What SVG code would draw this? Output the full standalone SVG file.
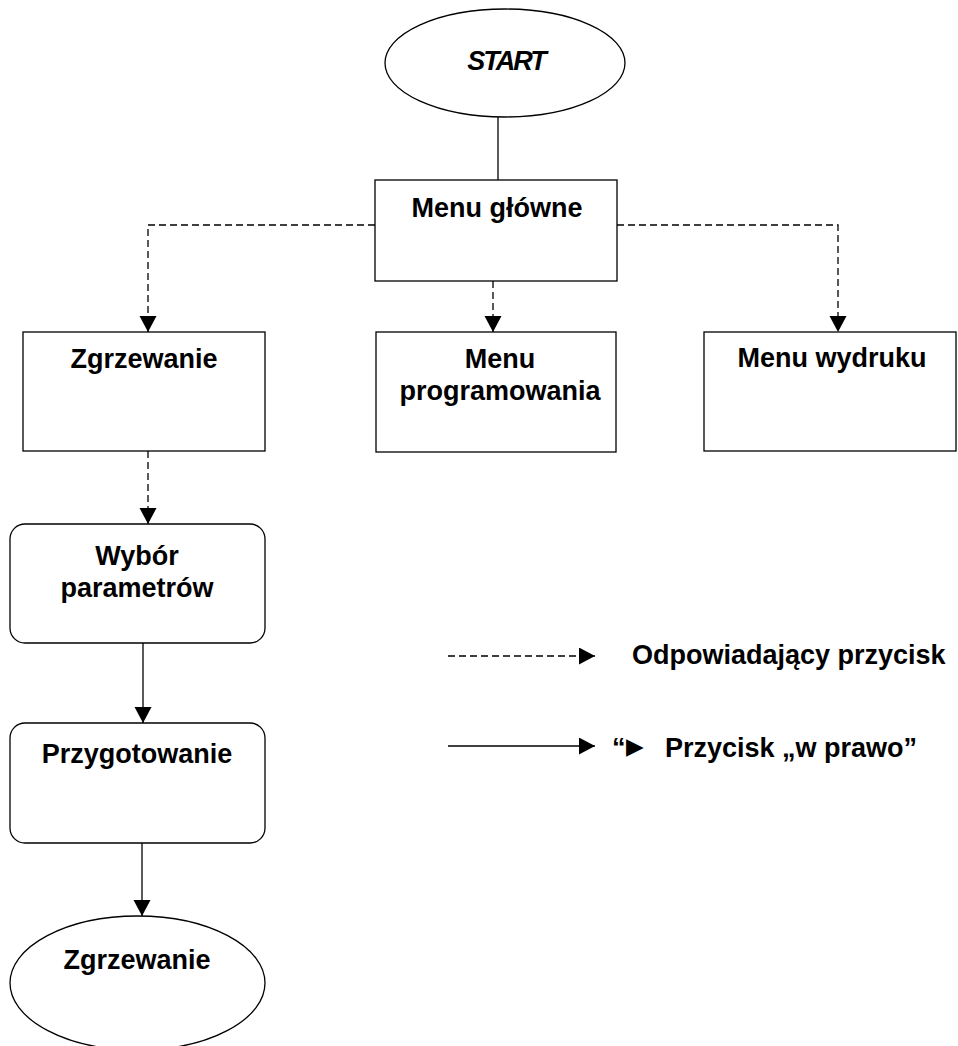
<svg xmlns="http://www.w3.org/2000/svg" width="958" height="1046" viewBox="0 0 958 1046">
<style>
.shape{fill:#fff;stroke:#000;stroke-width:1.3}
.t{font-family:"Liberation Sans",Arial,sans-serif;font-weight:bold;font-size:27px;fill:#000;text-anchor:middle}
.tl{font-family:"Liberation Sans",Arial,sans-serif;font-weight:bold;font-size:27px;fill:#000}
.c{fill:none;stroke:#000;stroke-width:1.3}
.d{stroke-dasharray:7 4}
</style>
<defs>
<marker id="ah" markerUnits="userSpaceOnUse" markerWidth="18" markerHeight="18" refX="16" refY="8.5" orient="auto">
<path d="M0,0 L16,8.5 L0,17 Z" fill="#000"/>
</marker>
</defs>
<rect width="958" height="1046" fill="#fff"/>
<g id="connectors">
<path class="c" d="M498,117 V180"/>
<path class="c d" d="M375,225 H148 V332" marker-end="url(#ah)"/>
<path class="c d" d="M617,225 H838 V332" marker-end="url(#ah)"/>
<path class="c d" d="M493,281 V332" marker-end="url(#ah)"/>
<path class="c d" d="M148,451 V524" marker-end="url(#ah)"/>
<path class="c" d="M143,643 V723" marker-end="url(#ah)"/>
<path class="c" d="M142,843 V916" marker-end="url(#ah)"/>
</g>
<g id="start">
<ellipse class="shape" cx="505" cy="63" rx="120" ry="54"/>
<text class="t" x="506" y="70" font-style="italic" font-size="27" letter-spacing="-2">START</text>
</g>
<g id="menu-glowne">
<rect class="shape" x="375" y="180" width="242" height="101"/>
<text class="t" x="497" y="217">Menu główne</text>
</g>
<g id="zgrzewanie">
<rect class="shape" x="23" y="332" width="242" height="119"/>
<text class="t" x="144" y="368">Zgrzewanie</text>
</g>
<g id="menu-programowania">
<rect class="shape" x="376" y="332" width="240" height="120"/>
<text class="t" x="500" y="368">Menu</text>
<text class="t" x="500" y="400">programowania</text>
</g>
<g id="menu-wydruku">
<rect class="shape" x="704" y="332" width="252" height="119"/>
<text class="t" x="832" y="367">Menu wydruku</text>
</g>
<g id="wybor-parametrow">
<rect class="shape" x="10" y="524" width="255" height="119" rx="15"/>
<text class="t" x="137" y="565">Wybór</text>
<text class="t" x="137" y="597">parametrów</text>
</g>
<g id="przygotowanie">
<rect class="shape" x="10" y="723" width="255" height="120" rx="15"/>
<text class="t" x="137" y="763">Przygotowanie</text>
</g>
<g id="zgrzewanie-end">
<ellipse class="shape" cx="137.5" cy="983" rx="127.5" ry="67"/>
<text class="t" x="137" y="969">Zgrzewanie</text>
</g>
<g id="legend">
<path class="c d" d="M448,656 H595" marker-end="url(#ah)"/>
<text class="tl" x="632" y="664">Odpowiadający przycisk</text>
<path class="c" d="M448,746 H595" marker-end="url(#ah)"/>
<text class="tl" x="612" y="757" font-size="24">“<tspan x="626" font-family="DejaVu Sans, sans-serif" font-size="23" font-weight="normal" dy="-3">▶</tspan><tspan x="665" dy="3" font-size="27">Przycisk „w prawo”</tspan></text>
</g>
</svg>
